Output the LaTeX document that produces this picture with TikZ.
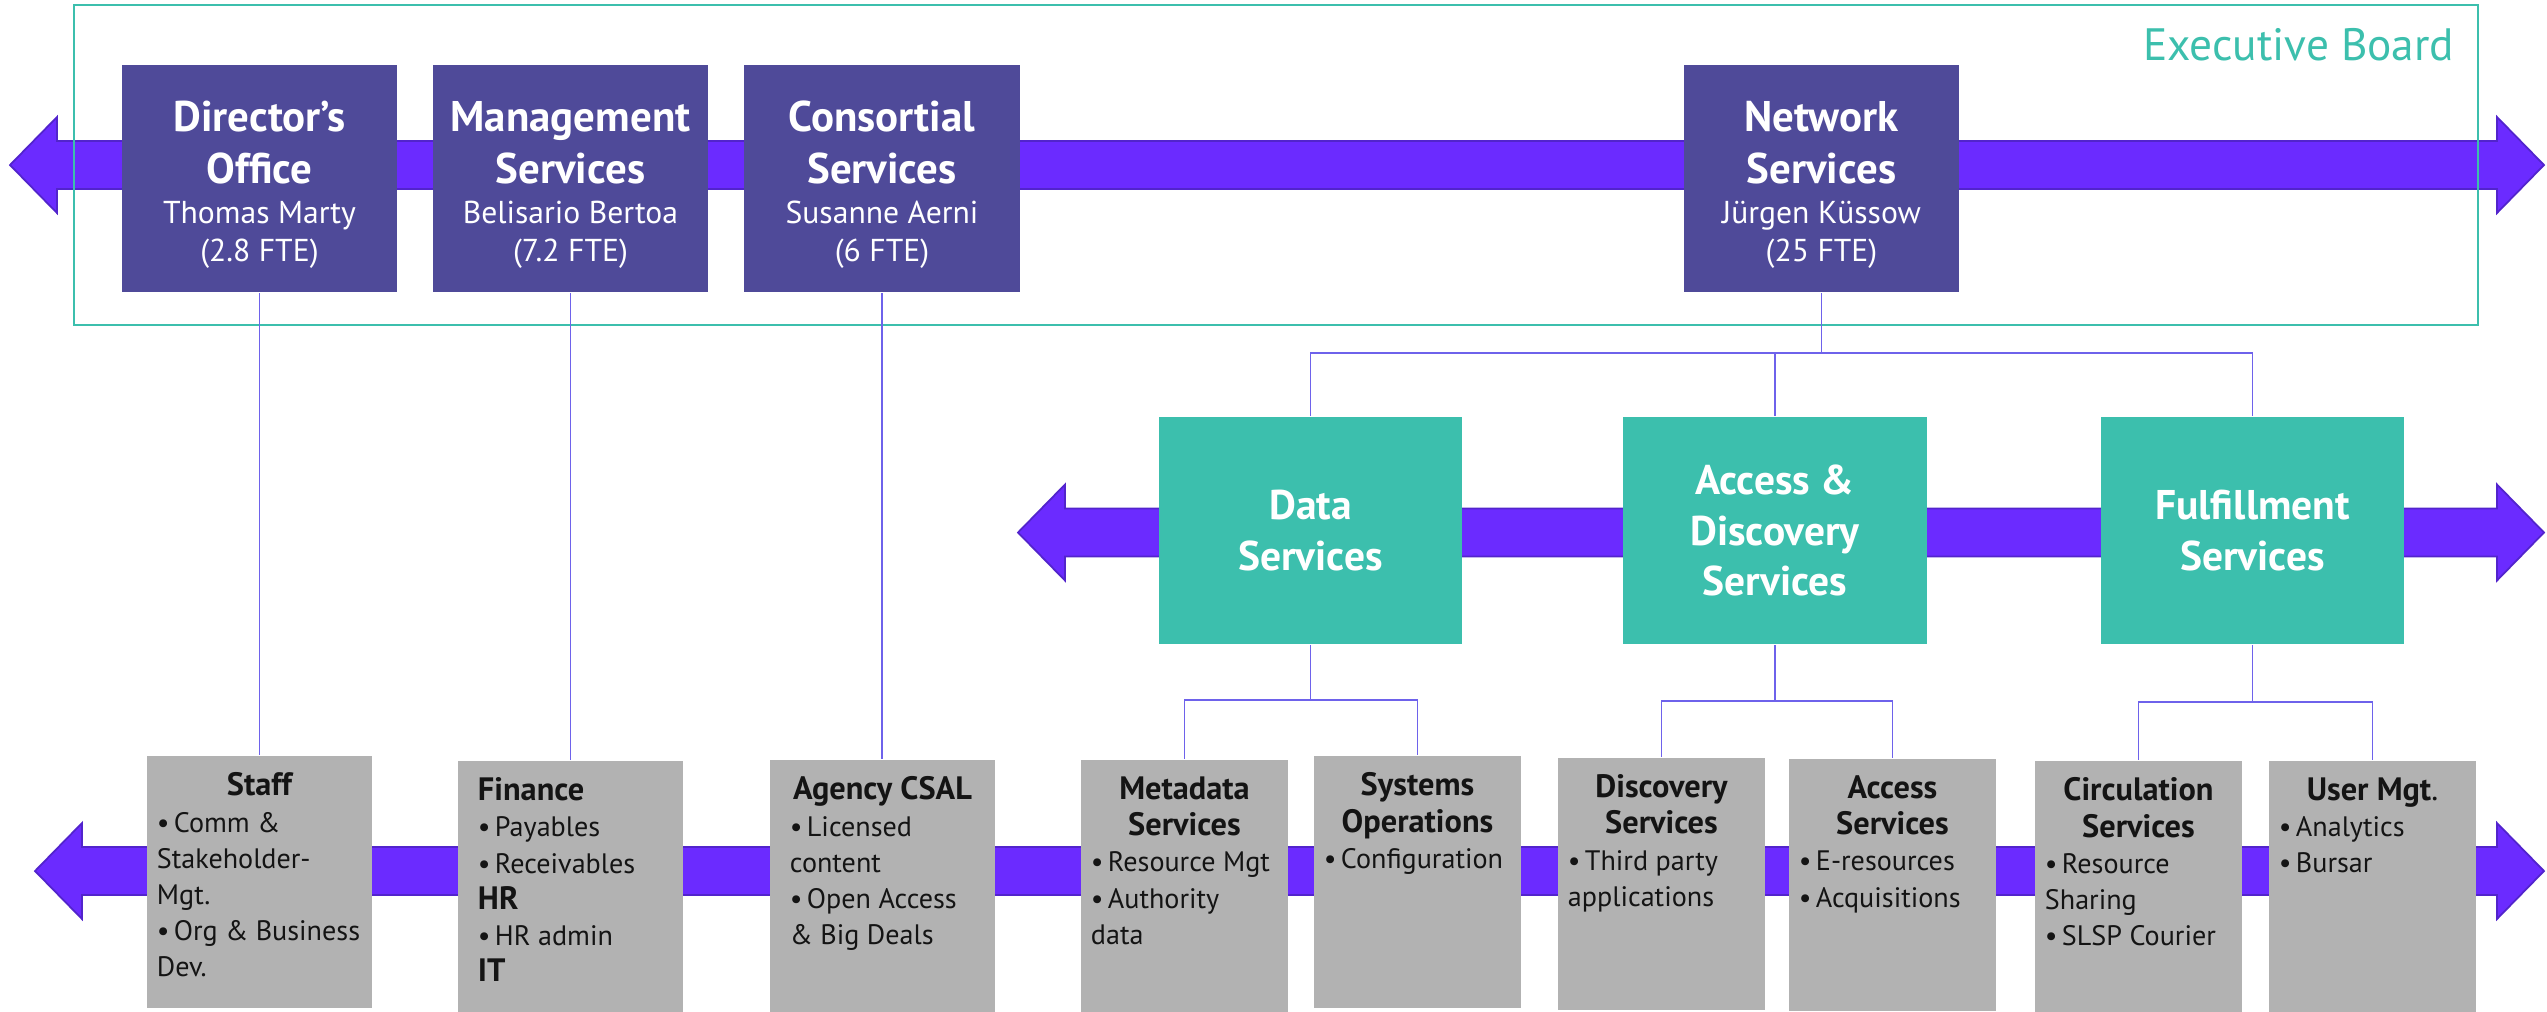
\documentclass[tikz,border=0pt]{standalone}
\usepackage{fontspec}
\setmainfont{PT Sans}

\definecolor{leadviolet}{RGB}{79,74,153}
\definecolor{divteal}{RGB}{60,191,173}
\definecolor{unitgrey}{RGB}{178,178,178}
\definecolor{bandviolet}{RGB}{107,43,255}
\definecolor{bandedge}{RGB}{82,36,204}
\definecolor{linkviolet}{RGB}{110,98,235}
\definecolor{unitink}{RGB}{20,20,20}

\newcommand{\leadfont}{\fontsize{12.2}{14.8}\selectfont\bfseries}
\newcommand{\unitpage}[3]{\begin{minipage}[t][2.18cm][t]{#1}\raggedright\leftskip=#2\relax #3\end{minipage}}
\newcommand{\unithead}[1]{{\centering\fontsize{9.2}{10.3}\selectfont\bfseries #1\par}}
\newcommand{\unitheadl}[1]{{\fontsize{9.2}{10.3}\selectfont\bfseries #1\par}}
\newcommand{\bitem}[1]{\par\hangindent=0.17cm\hangafter=1\noindent\makebox[0.17cm][l]{\textbullet}#1\par}

\begin{document}
\begin{tikzpicture}[x=0.01cm, y=-0.01cm,
    leadbox/.style={fill=leadviolet, text=white, minimum width=2.75cm, minimum height=2.27cm, inner sep=0pt, align=center, font=\fontsize{9}{14.8}\selectfont},
    divbox/.style={fill=divteal, text=white, minimum width=3.03cm, minimum height=2.27cm, inner sep=0pt, align=center, font=\fontsize{11.8}{14.4}\selectfont\bfseries},
    unitbox/.style={fill=unitgrey, text=unitink, anchor=north, inner xsep=0pt, inner ysep=0.17cm, font=\fontsize{8}{10.3}\selectfont},
    link/.style={draw=linkviolet, line width=0.5pt},
    band/.style={fill=bandviolet, draw=bandedge, line width=0.5pt},
    boardline/.style={draw=divteal, line width=0.75pt}]
    \useasboundingbox (0,0) rectangle (2547,1011);

    \foreach \xl/\y in {10/165, 1018/532.5, 35/871}
        \filldraw[band] (\xl,\y) -- ++(47,-48) -- ++(0,24) -- (2497,{\y-24}) -- (2497,{\y-48}) -- (2544,\y)
            -- (2497,{\y+48}) -- (2497,{\y+24}) -- ({\xl+47},{\y+24}) -- ({\xl+47},{\y+48}) -- cycle;

    \draw[boardline] (74,5) rectangle (2478,325);
    \node[anchor=base east, inner sep=0pt, text=divteal, font=\fontsize{12.9}{15}\selectfont] (boardname) at (2455,60) {Executive Board};

    \node[leadbox] (dir) at (259.5,178.5) {{\leadfont\rule{0pt}{12.3pt}Director’s}\\{\leadfont Office}\\[-3.5pt]Thomas Marty\\[-4pt](2.8 FTE)};
    \node[leadbox] (mgmt) at (570.5,178.5) {{\leadfont\rule{0pt}{12.3pt}Management}\\{\leadfont Services}\\[-3.5pt]Belisario Bertoa\\[-4pt](7.2 FTE)};
    \node[leadbox] (cons) at (882,178.5) {{\leadfont\rule{0pt}{12.3pt}Consortial}\\{\leadfont Services}\\[-3.5pt]Susanne Aerni\\[-4pt](6 FTE)};
    \node[leadbox] (net) at (1821.5,178.5) {{\leadfont\rule{0pt}{12.3pt}Network}\\{\leadfont Services}\\[-3.5pt]Jürgen Küssow\\[-4pt](25 FTE)};

    \node[divbox] (data) at (1310.5,530.5) {Data\\Services};
    \node[divbox] (accdisc) at (1775,530.5) {Access \&\\Discovery\\Services};
    \node[divbox] (fulfil) at (2252.5,530.5) {Fulfillment\\Services};

    \node[unitbox] (staff) at (259.5,755) {\unitpage{2.25cm}{0.1cm}{\unithead{Staff}\bitem{Comm \&\\Stakeholder-\\Mgt.}\bitem{Org \& Business\\Dev.}}};
    \node[unitbox] (finance) at (570.5,760) {\unitpage{2.25cm}{0.2cm}{\unitheadl{Finance}\bitem{Payables}\bitem{Receivables}\unitheadl{HR}\bitem{HR admin}\unitheadl{IT}}};
    \node[unitbox] (agency) at (882.5,759) {\unitpage{2.25cm}{0.2cm}{\unithead{Agency CSAL}\bitem{Licensed\\content}\bitem{Open Access\\\& Big Deals}}};
    \node[unitbox] (metadata) at (1184.5,759) {\unitpage{2.07cm}{0.1cm}{\unithead{Metadata\\Services}\bitem{Resource Mgt}\bitem{Authority\\data}}};
    \node[unitbox] (sysops) at (1417.5,755) {\unitpage{2.07cm}{0.1cm}{\unithead{Systems\\Operations}\bitem{Configuration}}};
    \node[unitbox] (discovery) at (1661.5,757) {\unitpage{2.07cm}{0.1cm}{\unithead{Discovery\\Services}\bitem{Third party\\applications}}};
    \node[unitbox] (access) at (1892.5,758) {\unitpage{2.07cm}{0.1cm}{\unithead{Access\\Services}\bitem{E-resources}\bitem{Acquisitions}}};
    \node[unitbox] (circulation) at (2138.5,760) {\unitpage{2.07cm}{0.1cm}{\unithead{Circulation\\Services}\bitem{Resource\\Sharing}\bitem{SLSP Courier}}};
    \node[unitbox] (usermgt) at (2372.5,760) {\unitpage{2.07cm}{0.1cm}{\unithead{User Mgt{\mdseries.}}\bitem{Analytics}\bitem{Bursar}}};

    \draw[link] (dir.south) -- (dir.south |- staff.north);
    \draw[link] (mgmt.south) -- (mgmt.south |- finance.north);
    \draw[link] (cons.south) -- (cons.south |- agency.north);

    \draw[link] (net.south) -- ++(0,60) coordinate (netfork) -| (data.north);
    \draw[link] (netfork) -| (accdisc.north);
    \draw[link] (netfork) -| (fulfil.north);

    \draw[link] (data.south) -- ++(0,55) coordinate (datafork) -| (metadata.north);
    \draw[link] (datafork) -| (sysops.north);
    \draw[link] (accdisc.south) -- ++(0,56) coordinate (adfork) -| (discovery.north);
    \draw[link] (adfork) -| (access.north);
    \draw[link] (fulfil.south) -- ++(0,57) coordinate (fulfilfork) -| (circulation.north);
    \draw[link] (fulfilfork) -| (usermgt.north);
\end{tikzpicture}
\end{document}
